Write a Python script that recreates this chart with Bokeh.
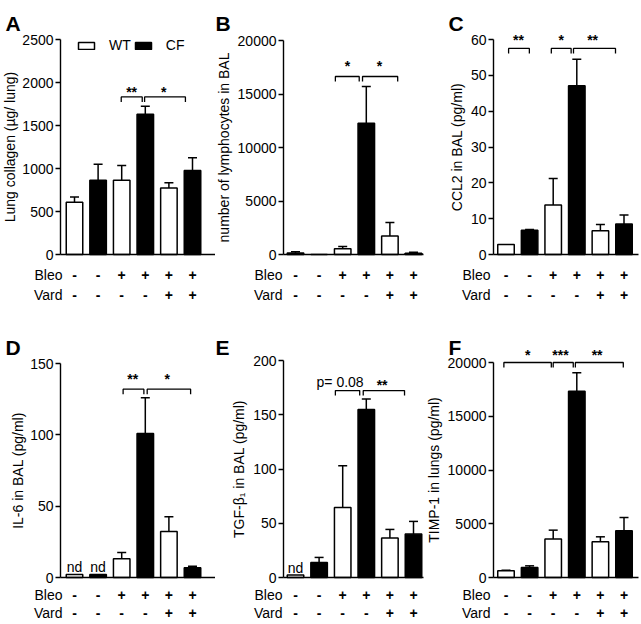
from bokeh.plotting import figure
from bokeh.models import (ColumnDataSource, Whisker, TeeHead, LabelSet, Label,
                          Legend, LegendItem, FixedTicker, Range1d)
from bokeh.core.properties import value
from bokeh.layouts import column, row
from bokeh.embed import file_html
from bokeh.resources import INLINE

FONT = "Liberation Sans"

# ---------------- data ----------------
positions = [1, 2, 3, 4, 5, 6]
genotype = ["WT", "CF", "WT", "CF", "WT", "CF"]
bleo = ["-", "-", "+", "+", "+", "+"]
vard = ["-", "-", "-", "-", "+", "+"]

collagen_mean = [609, 862, 862, 1630, 773, 978]
collagen_err = [59, 186, 174, 94, 62, 148]
collagen_ticks = [0, 500, 1000, 1500, 2000, 2500]

lymph_mean = [150, 0, 530, 12270, 1740, 120]
lymph_err = [100, 0, 220, 3430, 1250, 80]
lymph_ticks = [0, 5000, 10000, 15000, 20000]

ccl2_mean = [2.8, 6.8, 13.8, 47.1, 6.6, 8.5]
ccl2_err = [0, 0.2, 7.4, 7.4, 1.8, 2.5]
ccl2_ticks = [0, 10, 20, 30, 40, 50, 60]

il6_mean = [2.1, 2.1, 13.1, 101, 32.2, 6.8]
il6_err = [0, 0, 4.4, 25, 10.3, 1.1]
il6_nd = [True, True, False, False, False, False]
il6_ticks = [0, 50, 100, 150]

tgf_mean = [2.2, 13.8, 64.6, 154.8, 36.3, 40.0]
tgf_err = [0, 4.7, 38.4, 9.8, 8.0, 11.7]
tgf_nd = [True, False, False, False, False, False]
tgf_ticks = [0, 50, 100, 150, 200]

timp_mean = [620, 930, 3570, 17330, 3320, 4340]
timp_err = [60, 155, 835, 1705, 465, 1240]
timp_ticks = [0, 5000, 10000, 15000, 20000]

# significance brackets: (x from, x to, bracket height, label, label x, label centre y)
collagen_sig = [(2.98, 3.87, 1832, "**", 3.42, 1929), (3.97, 5.70, 1832, "*", 4.78, 1929)]
lymph_sig = [(2.69, 3.70, 16636, "*", 3.20, 17880), (3.84, 5.33, 16636, "*", 4.56, 17880)]
ccl2_sig = [(1.11, 1.99, 57.5, "**", 1.53, 60.8), (2.92, 3.76, 57.5, "*", 3.34, 60.8),
            (3.86, 5.64, 57.5, "**", 4.67, 60.8)]
il6_sig = [(3.06, 3.94, 132, "**", 3.47, 141.4), (4.08, 5.92, 132, "*", 4.93, 141.4)]
tgf_sig = [(2.69, 3.72, 172.3, "p= 0.08", 2.89, 180), (3.87, 5.62, 172.3, "**", 4.67, 180)]
timp_sig = [(0.91, 2.92, 20000, "*", 1.92, 20992), (3.00, 3.85, 20000, "***", 3.31, 20992),
            (3.94, 5.97, 20000, "**", 4.86, 20992)]

# ---------------- layout geometry (pixels inside each figure) ----------------
STEP = 23.6  # px between neighbouring bars
# fig width, y-axis x, first bar centre x, x-axis end, letter x, row-label dx, label standoff
COLS = [
    dict(w=215, ax=60, b1=74, end=215, lx=5, rdx=2, st=1),
    dict(w=211, ax=68, b1=80, end=208, lx=0, rdx=-1, st=3),
    dict(w=215, ax=67, b1=79.5, end=212, lx=22, rdx=-3, st=3),
]
# fig height, y of zero line, sign rows below axis, letter baseline y
ROWS = [
    dict(h=320, zero=254, s1=20, s2=40, ly=22.7),
    dict(h=304, zero=257, s1=17.3, s2=35, ly=26.7),
]


def panel(col, rw, top, letter, ylabel, ticks, mean, err, sig, nd=None, legend=False):
    c, r = COLS[col], ROWS[rw]
    ymax = ticks[-1]
    fy = ymax / (r["zero"] - top)

    def X(px):
        return 1 + (px - c["b1"]) / STEP

    def Y(py):
        return (r["zero"] - py) * fy

    p = figure(width=c["w"], height=r["h"], x_range=Range1d(X(0), X(c["w"])),
               y_range=Range1d(Y(r["h"]), Y(0)), output_backend="svg",
               toolbar_location=None, min_border=0)
    p.title.visible = False
    p.outline_line_color = None
    p.xgrid.visible = False
    p.ygrid.visible = False
    p.background_fill_color = "white"
    p.border_fill_color = "white"

    xa = p.xaxis[0]
    xa.fixed_location = 0
    xa.bounds = (X(c["ax"]), X(c["end"]))
    xa.ticker = FixedTicker(ticks=[])
    xa.major_label_text_font_size = "0px"
    xa.major_tick_line_color = None
    xa.minor_tick_line_color = None
    xa.axis_line_width = 1.4
    xa.axis_line_color = "black"

    ya = p.yaxis[0]
    ya.fixed_location = X(c["ax"])
    ya.ticker = FixedTicker(ticks=ticks)
    ya.bounds = (0, ymax)
    ya.minor_tick_line_color = None
    ya.major_tick_out = 5
    ya.major_tick_in = 0
    ya.major_tick_line_width = 1.4
    ya.major_tick_line_color = "black"
    ya.axis_line_width = 1.4
    ya.axis_line_color = "black"
    ya.major_label_standoff = 2
    ya.major_label_text_font = FONT
    ya.major_label_text_font_size = "14px"
    ya.major_label_text_color = "black"
    ya.axis_label = ylabel
    ya.axis_label_standoff = c["st"]
    ya.axis_label_text_font = FONT
    ya.axis_label_text_font_size = "14px"
    ya.axis_label_text_font_style = "normal"
    ya.axis_label_text_color = "black"

    # bars
    rends = {}
    for g, fill in (("WT", "white"), ("CF", "black")):
        idx = [i for i, gg in enumerate(genotype) if gg == g]
        src = ColumnDataSource(dict(x=[positions[i] for i in idx], top=[mean[i] for i in idx]))
        rends[g] = p.vbar(x="x", top="top", width=0.7, bottom=0, source=src,
                          fill_color=fill, line_color="black", line_width=1.5)

    # error bars (upper only)
    ie = [i for i in range(6) if err[i] > 0]
    wsrc = ColumnDataSource(dict(x=[positions[i] for i in ie], lo=[mean[i] for i in ie],
                                 hi=[mean[i] + err[i] for i in ie]))
    p.add_layout(Whisker(source=wsrc, base="x", lower="lo", upper="hi", dimension="height",
                         lower_head=None,
                         upper_head=TeeHead(size=9, line_width=1.5, line_color="black"),
                         line_width=1.5, line_color="black", level="overlay"))

    # significance brackets
    leg = 5 * fy
    xs_l, ys_l = [], []
    for (x0, x1, yb, lab, lx, ly) in sig:
        xs_l.append([x0, x0, x1, x1])
        ys_l.append([yb - leg, yb, yb, yb - leg])
        is_star = set(lab) == {"*"}
        p.add_layout(Label(x=lx, y=ly - (3 * fy if is_star else 0), text=lab,
                           text_align="center", text_baseline="middle",
                           text_font=FONT, text_font_size="14px",
                           text_font_style="bold" if is_star else "normal",
                           text_color="black"))
    p.multi_line(xs=xs_l, ys=ys_l, line_color="black", line_width=1.3)

    # nd labels
    if nd:
        ind = [i for i in range(6) if nd[i]]
        ndsrc = ColumnDataSource(dict(x=[positions[i] for i in ind],
                                      y=[mean[i] + 2.5 * fy for i in ind],
                                      t=["nd"] * len(ind)))
        p.add_layout(LabelSet(x="x", y="y", text="t", source=ndsrc, text_align="center",
                              text_baseline="alphabetic", text_font=value(FONT),
                              text_font_size=value("14px"), text_color="black"))

    # treatment rows
    for dy, signs, name in ((r["s1"], bleo, "Bleo"), (r["s2"], vard, "Vard")):
        yy = Y(r["zero"] + dy)
        ssrc = ColumnDataSource(dict(x=positions, y=[yy] * 6, t=signs))
        p.add_layout(LabelSet(x="x", y="y", text="t", source=ssrc, text_align="center",
                              text_baseline="middle", text_font=value(FONT),
                              text_font_size=value("14px"), text_font_style="bold",
                              text_color="black"))
        p.add_layout(Label(x=X(c["ax"] + c["rdx"]), y=yy, text=name,
                           text_align="right", text_baseline="middle", text_font=FONT,
                           text_font_size="14px", text_color="black"))

    # panel letter
    p.add_layout(Label(x=X(c["lx"]), y=Y(r["ly"]), text=letter,
                       text_align="left", text_baseline="alphabetic", text_font=FONT,
                       text_font_size="21px", text_font_style="bold", text_color="black"))

    if legend:
        lg = Legend(items=[LegendItem(label="WT", renderers=[rends["WT"]]),
                           LegendItem(label="CF", renderers=[rends["CF"]])],
                    orientation="horizontal", location=(76, r["h"] - 53),
                    padding=0, margin=0, spacing=2, label_standoff=13, glyph_width=20,
                    glyph_height=9, label_height=16, label_width=0,
                    border_line_color=None, background_fill_alpha=0, label_text_font=FONT,
                    label_text_font_size="14px", label_text_color="black")
        p.add_layout(lg)
    return p


pA = panel(0, 0, 39, "A", "Lung collagen (µg/ lung)", collagen_ticks, collagen_mean,
           collagen_err, collagen_sig, legend=True)
pB = panel(1, 0, 40, "B", "number of lymphocytes in BAL", lymph_ticks, lymph_mean,
           lymph_err, lymph_sig)
pC = panel(2, 0, 39, "C", "CCL2 in BAL (pg/ml)", ccl2_ticks, ccl2_mean, ccl2_err, ccl2_sig)
pD = panel(0, 1, 43, "D", "IL-6 in BAL (pg/ml)", il6_ticks, il6_mean, il6_err, il6_sig,
           nd=il6_nd)
pE = panel(1, 1, 40, "E", "TGF-β₁ in BAL (pg/ml)", tgf_ticks, tgf_mean, tgf_err, tgf_sig,
           nd=tgf_nd)
pF = panel(2, 1, 42, "F", "TIMP-1 in lungs (pg/ml)", timp_ticks, timp_mean, timp_err,
           timp_sig)

layout = column(row(pA, pB, pC), row(pD, pE, pF))
open("out.html", "w").write(file_html(layout, INLINE))
